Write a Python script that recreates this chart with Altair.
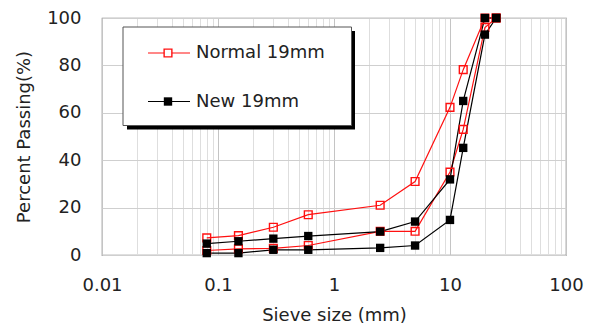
import altair as alt
import pandas as pd

# ---- data ----
sieve = [0.08, 0.15, 0.3, 0.6, 2.5, 5, 10, 13, 20, 25]
normal_upper = [7.2, 8.2, 11.7, 17.0, 21.0, 31.0, 62.3, 78.2, 100, 100]
normal_lower = [1.9, 2.6, 2.8, 4.0, 10.0, 10.0, 35.0, 53.0, 96.0, 100]
new_upper = [4.8, 5.8, 6.9, 8.0, 9.9, 14.1, 31.9, 65.0, 100, 100]
new_lower = [0.8, 0.8, 2.2, 2.2, 3.0, 4.0, 14.8, 45.2, 93.0, 100]
series_names = ["Normal 19mm", "New 19mm"]
x_ticks = [0.01, 0.1, 1, 10, 100]
y_ticks = [0, 20, 40, 60, 80, 100]

rows = []
for name, bound, vals in [
    (series_names[0], "upper", normal_upper),
    (series_names[0], "lower", normal_lower),
    (series_names[1], "upper", new_upper),
    (series_names[1], "lower", new_lower),
]:
    for s, v in zip(sieve, vals):
        rows.append({"series": name, "line": name + " " + bound, "size": s, "pct": v})
df = pd.DataFrame(rows)

# minor grid positions: 1..9 x each decade
grid_vals = []
for d in [0.01, 0.1, 1, 10]:
    for k in range(1, 10):
        grid_vals.append(round(d * k, 4))
grid_vals.append(100)

FONT = "DejaVu Sans"
TXT = "#222222"
is_major = "abs(log(datum.value)/log(10) - round(log(datum.value)/log(10))) < 0.001"

x_enc = alt.X(
    "size:Q",
    scale=alt.Scale(type="log", domain=[0.01, 100], nice=False),
    axis=alt.Axis(
        values=grid_vals,
        labelExpr=f"{is_major} ? format(datum.value, '~g') : ''",
        title="Sieve size (mm)",
        grid=True,
        gridColor={"condition": {"test": is_major, "value": "#c4c4c4"}, "value": "#dedede"},
        ticks=False,
        domain=False,
        labelPadding=21,
        titlePadding=12,
        labelFontSize=18,
        titleFontSize=18,
        labelFont=FONT,
        titleFont=FONT,
        titleFontWeight="normal",
        labelColor=TXT,
        titleColor=TXT,
        labelFlush=False,
        labelOverlap=False,
    ),
)
y_enc = alt.Y(
    "pct:Q",
    scale=alt.Scale(domain=[0, 100], nice=False),
    axis=alt.Axis(
        values=y_ticks,
        title="Percent Passing(%)",
        grid=True,
        gridColor="#cfcfcf",
        ticks=False,
        domain=False,
        labelPadding=21,
        titlePadding=13,
        labelFontSize=18,
        titleFontSize=18,
        labelFont=FONT,
        titleFont=FONT,
        titleFontWeight="normal",
        labelColor=TXT,
        titleColor=TXT,
    ),
)

red = "#ff1010"
normal_df = df[df.series == series_names[0]]
new_df = df[df.series == series_names[1]]

red_line = alt.Chart(normal_df).mark_line(color=red, strokeWidth=1.2).encode(
    x=x_enc, y=y_enc, detail="line:N"
)
red_pts = alt.Chart(normal_df).mark_point(
    shape="square", filled=False, color=red, size=60, strokeWidth=1.4, opacity=1
).encode(x="size:Q", y="pct:Q")
blk_line = alt.Chart(new_df).mark_line(color="black", strokeWidth=1.2).encode(
    x="size:Q", y="pct:Q", detail="line:N"
)
blk_pts = alt.Chart(new_df).mark_point(
    shape="square", filled=True, color="black", size=70, opacity=1
).encode(x="size:Q", y="pct:Q")

# ---- hand-drawn legend box (as in the reference) ----
one = pd.DataFrame({"a": [0]})
shadow = alt.Chart(one).mark_rect(color="black").encode(
    x=alt.value(25), x2=alt.value(253), y=alt.value(13), y2=alt.value(111.5)
)
box = alt.Chart(one).mark_rect(fill="white", stroke="#555555", strokeWidth=1).encode(
    x=alt.value(21), x2=alt.value(249.5), y=alt.value(9), y2=alt.value(107.5)
)


def legend_entry(label, ypix, color, filled):
    rule = alt.Chart(one).mark_rule(color=color, strokeWidth=1.2).encode(
        x=alt.value(46), x2=alt.value(88), y=alt.value(ypix)
    )
    pt = alt.Chart(one).mark_point(
        shape="square", filled=filled, color=color, size=60 if not filled else 70,
        strokeWidth=1.4, opacity=1, fill=color if filled else "white"
    ).encode(x=alt.value(66), y=alt.value(ypix))
    txt = alt.Chart(one).mark_text(
        align="left", baseline="middle", font=FONT, fontSize=18, color=TXT
    ).encode(x=alt.value(94), y=alt.value(ypix), text=alt.value(label))
    return [rule, pt, txt]


legend_layers = legend_entry(series_names[0], 35, red, False) + legend_entry(
    series_names[1], 83.5, "black", True
)

chart = alt.layer(
    red_line, blk_line, red_pts, blk_pts, shadow, box, *legend_layers
).properties(
    width=464,
    height=237,
    autosize=alt.AutoSizeParams(type="none"),
    padding={"left": 102, "top": 18, "right": 31, "bottom": 77},
    background="white",
).configure_view(
    stroke="#808080", strokeWidth=1.2
)

chart.save("out.html", embed_options={"renderer": "svg", "actions": False})
